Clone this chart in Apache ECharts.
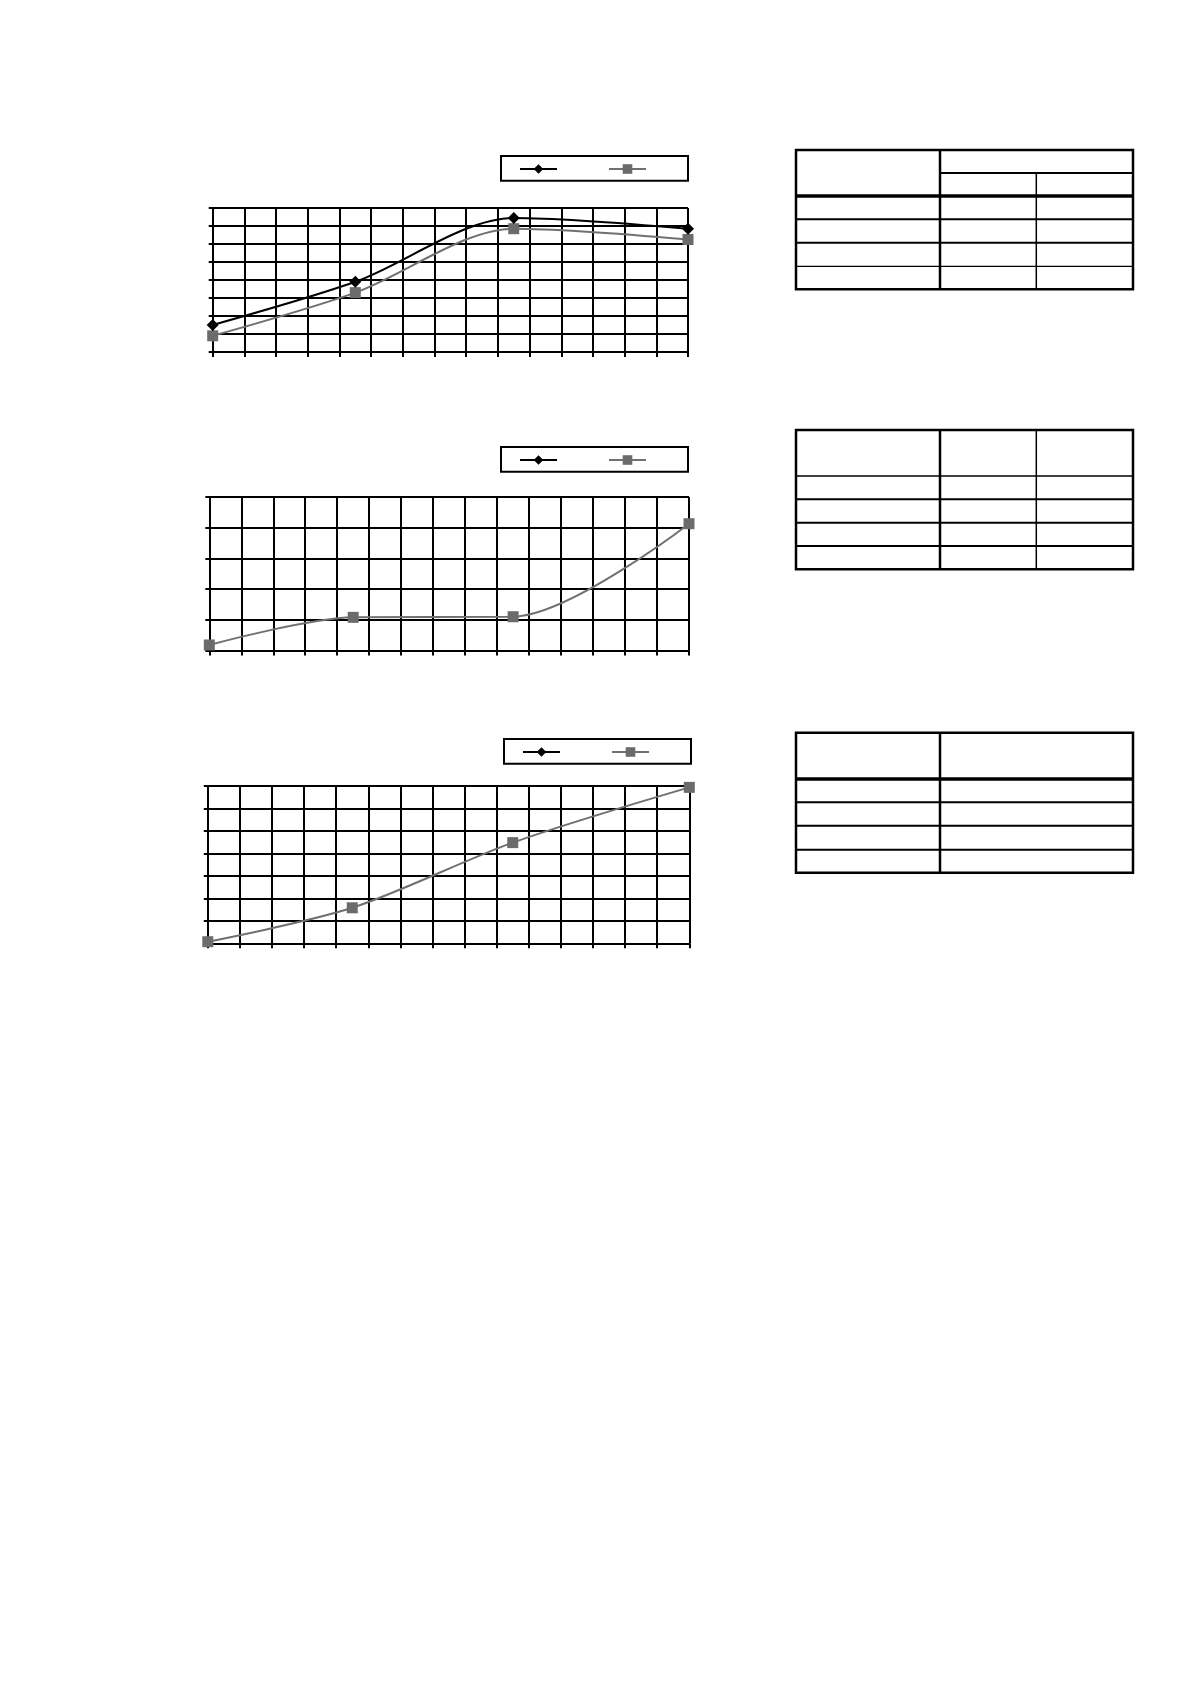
<!DOCTYPE html>
<html>
<head>
<meta charset="utf-8">
<script src="https://cdn.jsdelivr.net/npm/echarts@6/dist/echarts.min.js"></script>
<style>
html, body { margin: 0; padding: 0; background: #fff; }
#main { width: 1190px; height: 1684px; }
</style>
</head>
<body>
<div id="main"></div>
<script>
// x positions of the measured points (same in all three charts)
var xPoints = [0, 4.5, 9.5, 15];

// chart 1
var c1Black = [1.5, 3.9, 7.45, 6.85];
var c1Grey = [0.9, 3.3, 6.85, 6.25];
// chart 2 (black series has no visible points)
var c2Black = [];
var c2Grey = [0.18, 1.08, 1.1, 4.13];
// chart 3
var c3Black = [];
var c3Grey = [0.07, 1.58, 4.48, 6.94];

var seriesNames = ['Series 1', 'Series 2'];
var xMax = 15;
var yMax = [8, 5, 7];

function pairs(ys) {
    var out = [];
    for (var i = 0; i < ys.length; i++) {
        out.push([xPoints[i], ys[i]]);
    }
    return out;
}

var chartDom = document.getElementById('main');
var myChart = echarts.init(chartDom);

var grids = [
    { left: 212.7, top: 208, width: 475.3, height: 144 },
    { left: 209.3, top: 497, width: 479.7, height: 153.5 },
    { left: 207.8, top: 786, width: 481.5, height: 157.3 }
];
var legendPos = [
    { left: 501, top: 156 },
    { left: 501, top: 447 },
    { left: 504, top: 739 }
];
var blackData = [c1Black, c2Black, c3Black];
var greyData = [c1Grey, c2Grey, c3Grey];

var ruleLine = { color: '#000', width: 2 };

var xAxes = [], yAxes = [], series = [], legends = [];
for (var g = 0; g < 3; g++) {
    xAxes.push({
        type: 'value', gridIndex: g, min: 0, max: xMax, interval: 1,
        axisLine: { show: true, onZero: false, lineStyle: ruleLine },
        axisTick: { show: true, length: 5, lineStyle: ruleLine },
        axisLabel: { show: false },
        splitLine: { show: true, lineStyle: ruleLine }
    });
    yAxes.push({
        type: 'value', gridIndex: g, min: 0, max: yMax[g], interval: 1,
        axisLine: { show: true, onZero: false, lineStyle: ruleLine },
        axisTick: { show: true, length: 4, lineStyle: ruleLine },
        axisLabel: { show: false },
        splitLine: { show: true, lineStyle: ruleLine }
    });
    series.push({
        name: seriesNames[0], type: 'line', xAxisIndex: g, yAxisIndex: g,
        data: pairs(blackData[g]), smooth: 0.3,
        symbol: 'diamond', symbolSize: 12,
        itemStyle: { color: '#000' },
        lineStyle: { color: '#000', width: 2 },
        z: 3
    });
    series.push({
        name: seriesNames[1], type: 'line', xAxisIndex: g, yAxisIndex: g,
        data: pairs(greyData[g]), smooth: 0.3,
        symbol: 'rect', symbolSize: 11,
        itemStyle: { color: '#6b6b6b' },
        lineStyle: { color: '#707070', width: 2 },
        z: 2
    });
    legends.push({
        data: seriesNames,
        left: legendPos[g].left, top: legendPos[g].top,
        orient: 'horizontal',
        itemWidth: 37, itemHeight: 12, itemGap: 50,
        padding: [7, 41, 7, 18],
        borderColor: '#000', borderWidth: 2, borderRadius: 0,
        selectedMode: false,
        formatter: function () { return ''; },
        textStyle: { fontSize: 10, fontFamily: 'Liberation Sans' }
    });
}

// extra tick marks on the right side of chart 2
yAxes.push({
    type: 'value', gridIndex: 1, position: 'right', min: 0, max: yMax[1], interval: 1,
    axisLine: { show: true, lineStyle: ruleLine },
    axisTick: { show: true, length: 4, lineStyle: ruleLine },
    axisLabel: { show: false },
    splitLine: { show: false }
});

// empty tables on the right
function hLine(x1, x2, y, w) {
    return { type: 'line', shape: { x1: x1, y1: y, x2: x2, y2: y }, style: { stroke: '#000', lineWidth: w } };
}
function vLine(x, y1, y2, w) {
    return { type: 'line', shape: { x1: x, y1: y1, x2: x, y2: y2 }, style: { stroke: '#000', lineWidth: w } };
}
function box(x1, y1, x2, y2) {
    return { type: 'rect', shape: { x: x1, y: y1, width: x2 - x1, height: y2 - y1 }, style: { fill: 'none', stroke: '#000', lineWidth: 2.5 } };
}
var TL = 796, TR = 1133, C1 = 940, C2 = 1036.3;
var graphics = [
    // table 1
    box(TL, 150, TR, 289.3),
    vLine(C1, 150, 289.3, 2.5),
    vLine(C2, 173, 289.3, 1.5),
    hLine(C1, TR, 173, 2),
    hLine(TL, TR, 196, 3.5),
    hLine(TL, TR, 219.3, 2),
    hLine(TL, TR, 242.7, 2),
    hLine(TL, TR, 266.3, 1.3),
    // table 2
    box(TL, 430, TR, 569.3),
    vLine(C1, 430, 569.3, 2.5),
    vLine(C2, 430, 569.3, 1.5),
    hLine(TL, TR, 476, 1.5),
    hLine(TL, TR, 499.3, 2),
    hLine(TL, TR, 522.7, 2),
    hLine(TL, TR, 546, 2),
    // table 3
    box(TL, 732.7, TR, 872.7),
    vLine(C1, 732.7, 872.7, 2.5),
    hLine(TL, TR, 779, 3.5),
    hLine(TL, TR, 802.3, 2),
    hLine(TL, TR, 825.7, 2),
    hLine(TL, TR, 849.7, 2)
];

var option = {
    backgroundColor: '#fff',
    animation: false,
    grid: grids,
    xAxis: xAxes,
    yAxis: yAxes,
    legend: legends,
    series: series,
    graphic: graphics
};

option && myChart.setOption(option);
</script>
</body>
</html>
